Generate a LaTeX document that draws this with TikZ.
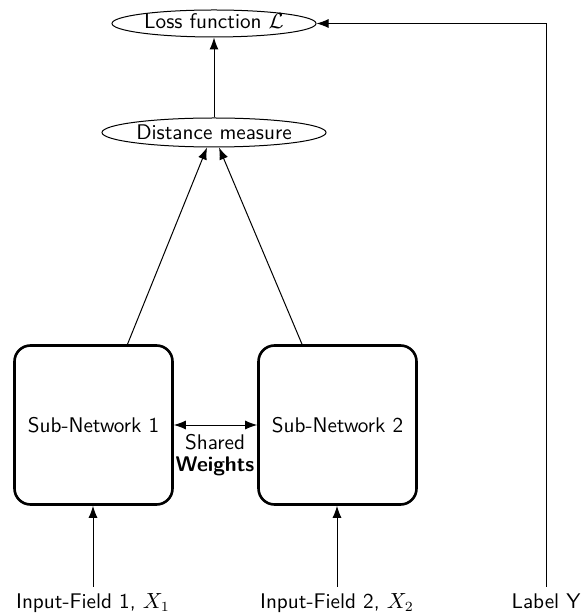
\documentclass[tikz,border=0pt]{standalone}
\usetikzlibrary{shapes.geometric,arrows.meta}
\begin{document}
\begin{tikzpicture}[x=0.5pt,y=-0.5pt,font=\sffamily\fontsize{10.6}{12.7}\selectfont,
  oval/.style={draw,ellipse,line width=0.5pt,inner sep=0pt},
  netbox/.style={draw,line width=1.3pt,rounded corners=8pt,
    minimum width=79pt,minimum height=79.5pt},
  flow/.style={-{Latex[length=6pt,width=4.5pt]},line width=0.5pt},
  twoway/.style={{Latex[length=6pt,width=4.5pt]}-{Latex[length=6pt,width=4.5pt]},line width=0.5pt},
  inlabel/.style={anchor=base,inner sep=3pt}]
\useasboundingbox (0,0) rectangle (580,613);

% objective and distance
\node[oval,minimum width=102pt,minimum height=13.5pt,
      text height=6pt,text depth=0.8pt] (loss) at (214,23.5) {Loss function $\mathcal{L}$};
\node[oval,minimum width=112pt,minimum height=14.5pt,
      text height=6.8pt,text depth=0.2pt] (dist) at (214,132.5) {Distance measure};

% twin networks
\node[netbox] (sub1) at (93.5,425) {Sub-Network 1};
\node[netbox] (sub2) at (337.5,425) {Sub-Network 2};
\node[align=center,anchor=north,inner sep=0pt] (shw) at (215,434)
  {Shared\\[-1.6pt]\textbf{Weights}};

% inputs and target
\node[inlabel] (in1) at (93,608) {Input-Field 1, $X_1$};
\node[inlabel] (in2) at (337,608) {Input-Field 2, $X_2$};
\node[inlabel] (laby) at (546,608) {Label Y};

% connectors
\draw[flow] (dist) -- (loss);
\draw[flow] ([xshift=17pt]sub1.north) -- ([xshift=-3.5pt]dist.south);
\draw[flow] ([xshift=-17.75pt]sub2.north) -- ([xshift=2.5pt]dist.south);
\draw[twoway] (sub1.east) -- (sub2.west);
\draw[flow] (in1.north) -- (in1.north |- sub1.south);
\draw[flow] (in2.north) -- (in2.north |- sub2.south);
\draw[flow] (laby.north) |- (loss.east);
\end{tikzpicture}
\end{document}
